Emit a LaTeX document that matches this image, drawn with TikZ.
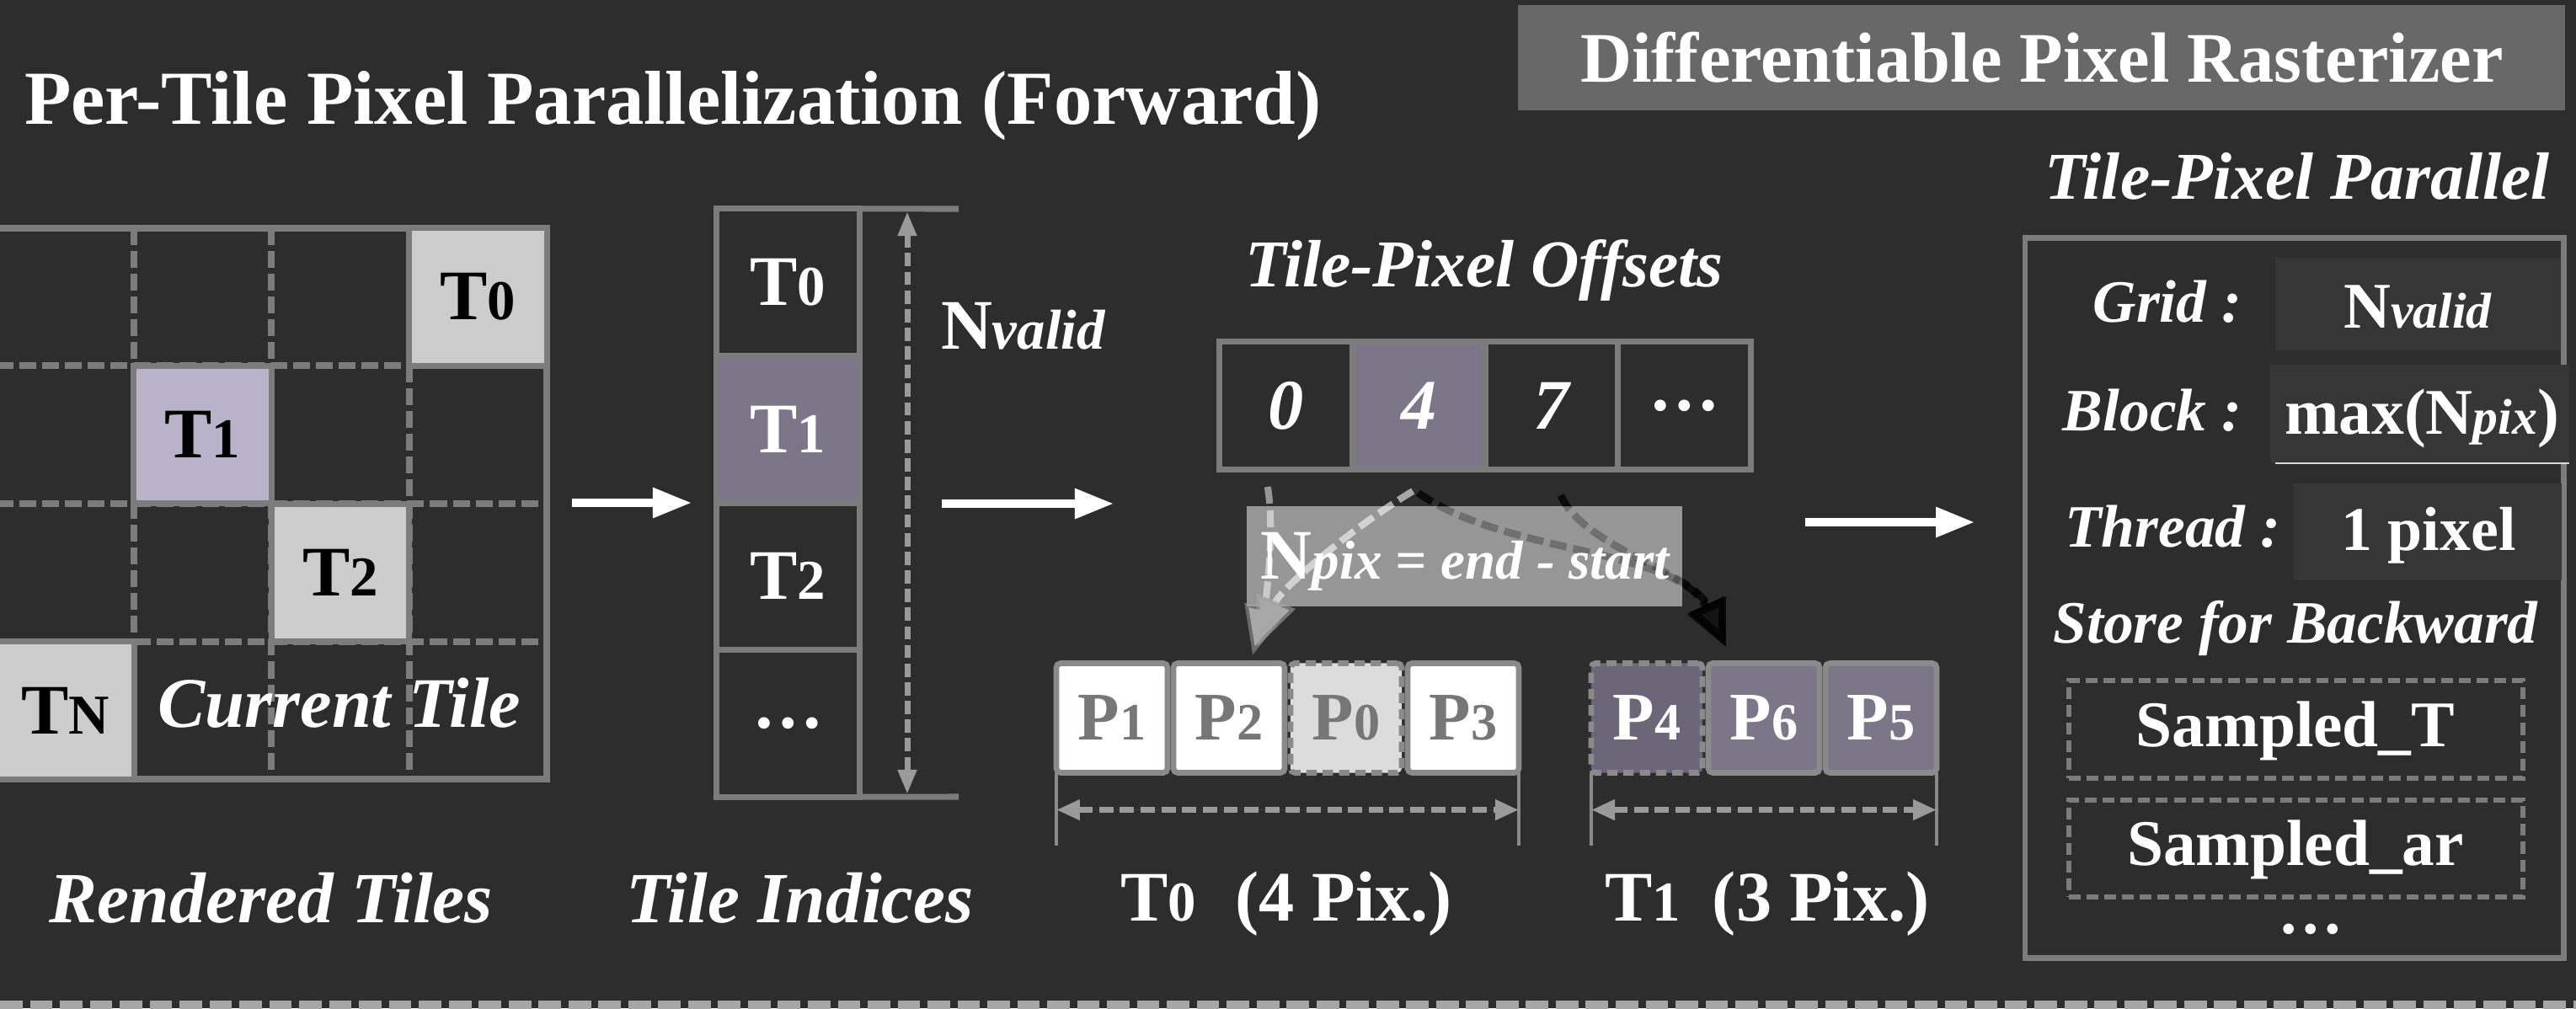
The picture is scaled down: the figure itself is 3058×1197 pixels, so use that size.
\documentclass[tikz,border=0pt]{standalone}
\usepackage{fontspec}
\setmainfont{Liberation Serif}
\usetikzlibrary{arrows.meta}
\definecolor{bgc}{HTML}{2D2D2D}
\definecolor{gridc}{HTML}{7C7C7C}
\definecolor{lightc}{HTML}{CCCCCC}
\definecolor{lavc}{HTML}{B8B3C8}
\definecolor{purc}{HTML}{7B7789}
\definecolor{purd}{HTML}{6B6779}
\definecolor{npixc}{HTML}{969696}
\definecolor{titlec}{HTML}{686868}
\definecolor{valc}{HTML}{363636}
\definecolor{pgray}{HTML}{8A8A8A}
\definecolor{ptext}{HTML}{777777}
\definecolor{pzfill}{HTML}{DCDCDC}
\definecolor{dimc}{HTML}{9A9A9A}
\definecolor{botc}{HTML}{A6A6A6}
\definecolor{headc}{HTML}{A8A8A8}
\definecolor{darkhead}{HTML}{141414}
\newcommand\fsz[1]{\fontsize{#1}{#1}\selectfont}
\newcommand\lsub[2]{{\fsz{#1}#2}}
\newcommand\darkpair[1]{%
  \draw[darkarrow,draw opacity=#1] ([shift={(-1,28)}]off1.south) .. controls (1790,660) and (1990,650) .. ([shift={(94,-19.5)}]p4.north);
  \draw[darkarrow,draw opacity=#1] ([shift={(11,31)}]off2.south) .. controls (1880,650) and (2010,680) .. ([shift={(94,-19.5)}]p4.north);}
\begin{document}
\begin{tikzpicture}[x=0.01cm,y=-0.01cm,
  every node/.style={inner sep=0pt,outer sep=0pt,text=white},
  griddash/.style={draw=gridc,line width=2pt,dash pattern=on 5.7pt off 2pt},
  gridline/.style={draw=gridc,line width=2pt},
  cellbox/.style={draw=gridc,line width=2pt,minimum width=1.633cm,minimum height=1.637cm,text=black,font=\bfseries\fsz{24pt}},
  idxbox/.style={draw=gridc,line width=2pt,minimum width=1.69cm,minimum height=1.745cm,font=\bfseries\fsz{24pt}},
  offbox/.style={draw=gridc,line width=2pt,minimum width=1.575cm,minimum height=1.51cm,font=\bfseries\itshape\fsz{24pt}},
  pbox/.style={draw=pgray,line width=1.9pt,rounded corners=1.5pt,minimum width=1.32cm,minimum height=1.30cm,font=\bfseries\fsz{23pt}},
  pdash/.style={dash pattern=on 3.5pt off 2pt},
  bigarrow/.style={draw=white,line width=2.6pt,-{Triangle[length=0.46cm,width=0.34cm]}},
  nvarrow/.style={draw=dimc,line width=2pt,dash pattern=on 4.5pt off 1.8pt,{Triangle[length=0.29cm,width=0.21cm]}-{Triangle[length=0.29cm,width=0.21cm]}},
  dimarrow/.style={draw=dimc,fill=dimc,line width=2pt,dash pattern=on 4.8pt off 2.2pt,{Triangle[length=0.28cm,width=0.23cm]}-{Triangle[length=0.28cm,width=0.23cm]}},
  extline/.style={draw=pgray,line width=0.9pt},
  lightarrow/.style={draw=white,line width=2.3pt,dash pattern=on 5.7pt off 2.3pt},
  lighthead/.style={-{Triangle[length=0.58cm,width=0.48cm,fill=headc,color=headc]}},
  darkarrow/.style={draw=black,line width=2.5pt,dash pattern=on 5.7pt off 2.3pt,-{Triangle[length=0.55cm,width=0.46cm,fill=darkhead,color=black]}},
  biglabel/.style={anchor=base,font=\bfseries\itshape\fsz{24.3pt}},
  uplabel/.style={anchor=base,font=\bfseries\fsz{24pt}},
  sidelabel/.style={anchor=base east,font=\bfseries\itshape\fsz{20.3pt}},
  valbox/.style={fill=valc},
  storebox/.style={draw=gridc,line width=1.7pt,dash pattern=on 4pt off 2pt,minimum width=5.39cm},
  storetext/.style={anchor=base,font=\bfseries\fsz{22pt}}
]
\fill[bgc] (0,0) rectangle (3058,1197);
\useasboundingbox (0,0) rectangle (3058,1197);

% ---------- titles
\node[anchor=base west,font=\bfseries\fsz{25.8pt}] (title) at (29,148) {Per-Tile Pixel Parallelization (Forward)};
\node[fill=titlec,minimum width=12.43cm,minimum height=1.25cm] (dprbox) at (2423.5,68.5) {};
\node[anchor=base,font=\bfseries\fsz{24pt}] (dprtext) at (2424,98) {Differentiable Pixel Rasterizer};

% ---------- rendered tiles grid
\foreach \gx in {159,322,486} \draw[griddash] (\gx,271) -- (\gx,925);
\foreach \gy in {434,598,762} \draw[griddash] (-4,\gy) -- (649,\gy);
\draw[gridline] (-4,271) rectangle (649,925);
\node[cellbox,fill=lightc] (g0) at (567.5,352.5) {T\lsub{19pt}{0}};
\node[cellbox,fill=lavc] (g1) at (240.5,516) {T\lsub{19pt}{1}};
\node[cellbox,fill=lightc] (g2) at (404,680) {T\lsub{19pt}{2}};
\node[cellbox,fill=lightc] (gn) at (77.5,843.5) {T\lsub{19pt}{N}};
\node[anchor=base,font=\bfseries\itshape\fsz{24pt}] (curtile) at (403,863) {Current Tile};

% ---------- arrow 1
\coordinate (aones) at (679,597);
\coordinate (aonee) at (821,597);
\draw[bigarrow] (aones) -- (aonee);

% ---------- tile indices
\node[idxbox] (ti0) at (935.5,335.25) {T\lsub{19pt}{0}};
\node[idxbox,fill=purc] (ti1) at (935.5,509.75) {T\lsub{19pt}{1}};
\node[idxbox] (ti2) at (935.5,684.25) {T\lsub{19pt}{2}};
\node[idxbox] (ti3) at (935.5,858.75) {…};
\coordinate (ntop) at (1138,248);
\coordinate (nbot) at (1138,946);
\draw[gridline] (ti0.north east) -- (ntop);
\draw[gridline] (ti3.south east) -- (nbot);
\coordinate (nvtop) at (1077,251);
\coordinate (nvbot) at (1077,943);
\draw[nvarrow] (nvtop) -- (nvbot);
\node[anchor=base west,font=\bfseries\fsz{24pt}] (nvalid) at (1117,414) {N\lsub{19pt}{\itshape valid}};

% ---------- arrow 2
\coordinate (atwos) at (1118,598);
\coordinate (atwoe) at (1322,598);
\draw[bigarrow] (atwos) -- (atwoe);

% ---------- offsets
\node[anchor=base,font=\bfseries\itshape\fsz{22.6pt}] (offtitle) at (1762,340) {Tile-Pixel Offsets};
\node[offbox] (off0) at (1526.75,481.5) {0};
\node[offbox,fill=purc] (off1) at (1684.25,481.5) {4};
\node[offbox] (off2) at (1841.75,481.5) {7};
\node[offbox,font=\bfseries\fsz{24pt}] (off3) at (1999.25,481.5) {…};

% ---------- pixel boxes
\node[pbox,fill=white,text=ptext] (p1) at (1320,852.5) {P\lsub{17.7pt}{1}};
\node[pbox,fill=white,text=ptext] (p2) at (1459,852.5) {P\lsub{17.7pt}{2}};
\node[pbox,pdash,fill=pzfill,text=ptext] (p0) at (1598,852.5) {P\lsub{17.7pt}{0}};
\node[pbox,fill=white,text=ptext] (p3) at (1737,852.5) {P\lsub{17.7pt}{3}};
\node[pbox,pdash,fill=purd] (p4) at (1955,852.5) {P\lsub{17.7pt}{4}};
\node[pbox,fill=purc] (p6) at (2094,852.5) {P\lsub{17.7pt}{6}};
\node[pbox,fill=purc] (p5) at (2233,852.5) {P\lsub{17.7pt}{5}};

% ---------- N_pix box and curved arrows
\node[fill=npixc,minimum width=5.17cm,minimum height=1.19cm] (npix) at (1738.5,660.5) {};
\begin{scope}
  \clip (1400,450) rectangle (2200,601) (1400,720) rectangle (2200,900) (1997,601) rectangle (2200,720);
  \darkpair{0.75}
\end{scope}
\begin{scope}
  \clip (npix.north west) rectangle (npix.south east);
  \darkpair{0.26}
\end{scope}
\draw[lightarrow,draw opacity=0.5,lighthead] ([shift={(-22,21)}]off0.south) .. controls (1514,630) and (1502,720) .. ([shift={(28,-9.5)}]p2.north);
\draw[lightarrow,draw opacity=0.58,lighthead] ([shift={(-7,26)}]off1.south) .. controls (1600,630) and (1520,700) .. ([shift={(34,-20)}]p2.north);
\node[anchor=base,font=\bfseries\fsz{24pt}] (npixtext) at (1739,687) {N\lsub{18.5pt}{\itshape pix = end - start}};

% ---------- dimension lines
\draw[extline] (p1.south west) -- ++(0,86);
\draw[extline] (p3.south east) -- ++(0,86);
\draw[extline] (p4.south west) -- ++(0,86);
\draw[extline] (p5.south east) -- ++(0,86);
\draw[dimarrow] ([yshift=-0.44cm]p1.south west) -- ([yshift=-0.44cm]p3.south east);
\draw[dimarrow] ([yshift=-0.44cm]p4.south west) -- ([yshift=-0.44cm]p5.south east);

% ---------- arrow 3
\coordinate (athrs) at (2143,620);
\coordinate (athre) at (2344,620);
\draw[bigarrow] (athrs) -- (athre);

% ---------- bottom labels
\node[biglabel] (lrend) at (322,1095) {Rendered Tiles};
\node[biglabel] (lidx) at (950,1095) {Tile Indices};
\node[uplabel] (lt0) at (1527,1093) {T\lsub{19pt}{0}\hspace{0.3em} (4 Pix.)};
\node[uplabel] (lt1) at (2098,1093) {T\lsub{19pt}{1}\hspace{0.2em} (3 Pix.)};

% ---------- right panel
\node[anchor=base,font=\bfseries\itshape\fsz{22.6pt}] (tpp) at (2727,236) {Tile-Pixel Parallel};
\node[draw=gridc,line width=1.9pt,minimum width=6.39cm,minimum height=8.54cm] (panel) at (2723.5,710) {};
\node[valbox,minimum width=3.39cm,minimum height=1.10cm] (gridv) at (2870.5,361) {};
\node[valbox,minimum width=3.55cm,minimum height=1.17cm] (blockv) at (2872.5,491.5) {};
\node[valbox,minimum width=3.19cm,minimum height=1.15cm] (threadv) at (2881.5,631.5) {};
\draw[draw=white!85!black,line width=0.8pt] ([xshift=0.06cm]blockv.south west) -- (blockv.south east);
\node[sidelabel] (lgrid) at (2661,382) {Grid :};
\node[sidelabel] (lblock) at (2661,511) {Block :};
\node[sidelabel] (lthread) at (2707,649) {Thread :};
\node[anchor=base,font=\bfseries\fsz{22pt}] (tgrid) at (2870,389) {N\lsub{17pt}{\itshape valid}};
\node[anchor=base,font=\bfseries\fsz{22pt}] (tblock) at (2875,515) {max(N\lsub{17pt}{\itshape pix})};
\node[anchor=base,font=\bfseries\fsz{21pt}] (tthread) at (2883,653) {1 pixel};
\node[anchor=base,font=\bfseries\itshape\fsz{20.3pt}] (lstore) at (2725,763) {Store for Backward};
\node[storebox,minimum height=1.16cm] (sbt) at (2725.5,866) {};
\node[storebox,minimum height=1.15cm] (sbar) at (2725.5,1007.5) {};
\node[storetext] (tsbt) at (2725,886) {Sampled\_T};
\node[storetext] (tsbar) at (2725,1027) {Sampled\_ar};
\node[anchor=base,font=\bfseries\fsz{22pt}] (pdots) at (2743,1108) {…};

% ---------- bottom dashed rule
\draw[draw=botc,line width=2.85pt,dash pattern=on 7.6pt off 2.5pt] (0,1193) -- (3058,1193);
\end{tikzpicture}
\end{document}
